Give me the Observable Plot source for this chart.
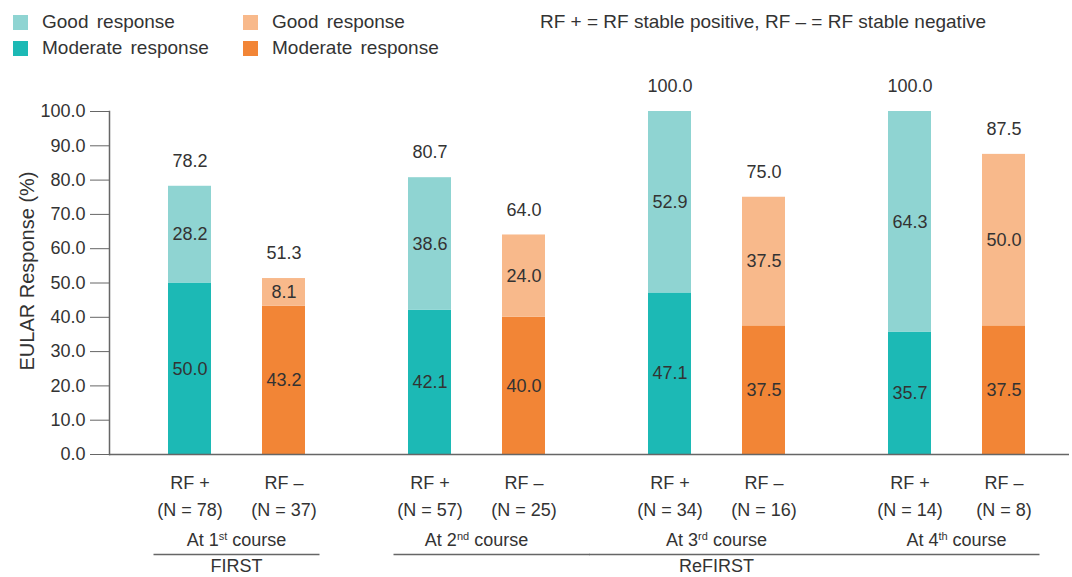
<!DOCTYPE html>
<html>
<head>
<meta charset="utf-8">
<script src="https://cdn.jsdelivr.net/npm/d3@7"></script>
<script src="https://cdn.jsdelivr.net/npm/@observablehq/plot@0.6"></script>
<style>
  html, body { margin: 0; padding: 0; background: #fff; }
  body { width: 1072px; height: 577px; overflow: hidden; font-family: "Liberation Sans", Arial, sans-serif; color: #333; }
  #legend { position: relative; height: 70px; font-size: 19px; }
  #legend .sw { position: absolute; width: 15px; height: 15px; }
  #legend .lb { position: absolute; line-height: 20px; white-space: nowrap; }
</style>
</head>
<body>
<div id="legend"></div>
<div id="chart"></div>
<script>
// ---- data ----
const courses = ["At 1st course", "At 2nd course", "At 3rd course", "At 4th course"];
const rfGroups = ["RF +", "RF –"];
const levels = ["Moderate response", "Good response"];
const nPos = [78, 57, 34, 14];
const nNeg = [37, 25, 16, 8];
const moderatePos = [50.0, 42.1, 47.1, 35.7];
const goodPos = [28.2, 38.6, 52.9, 64.3];
const totalPos = [78.2, 80.7, 100.0, 100.0];
const moderateNeg = [43.2, 40.0, 37.5, 37.5];
const goodNeg = [8.1, 24.0, 37.5, 50.0];
const totalNeg = [51.3, 64.0, 75.0, 87.5];
const phases = ["FIRST", "ReFIRST"];
const phaseSpans = [[0, 0], [1, 3]]; // course index ranges
const yTicks = [0, 10, 20, 30, 40, 50, 60, 70, 80, 90, 100];
const yLabel = "EULAR Response (%)";
const note = "RF + = RF stable positive, RF – = RF stable negative";

// ---- styling / layout ----
const colorDomain = ["RF +|Good response", "RF +|Moderate response", "RF –|Good response", "RF –|Moderate response"];
const colorRange = ["#8fd4d2", "#1cb9b5", "#f8b98b", "#f28536"];
const textColor = "#333";
const axisColor = "#666";
const W = 1072, H = 507, mL = 107, mR = 2;
const facetW = (W - mL - mR) / courses.length;
const xR0 = mL + 33.5, xR1 = mL + 221.5, padIn = 0.5426, padOut = 0.2713;
const xStep = (xR1 - xR0) / (rfGroups.length - padIn + 2 * padOut);
const bandStart = xR0 + xStep * padOut;
const bandEnd = bandStart + xStep * (rfGroups.length - padIn);
const ext = 14.5; // bracket overhang beyond bars

// ---- legend (HTML) ----
const legend = document.getElementById("legend");
const legendItems = [
  {key: colorDomain[0], label: "Good response", x: 13, y: 22},
  {key: colorDomain[1], label: "Moderate response", x: 13, y: 48},
  {key: colorDomain[2], label: "Good response", x: 243, y: 22},
  {key: colorDomain[3], label: "Moderate response", x: 243, y: 48}
];
for (const it of legendItems) {
  const sw = document.createElement("div");
  sw.className = "sw";
  sw.style.left = it.x + "px";
  sw.style.top = (it.y - 7.5) + "px";
  sw.style.background = colorRange[colorDomain.indexOf(it.key)];
  legend.appendChild(sw);
  const lb = document.createElement("div");
  lb.className = "lb";
  lb.style.left = (it.x + 29) + "px";
  lb.style.top = (it.y - 10) + "px";
  lb.style.wordSpacing = "3px";
  lb.textContent = it.label;
  legend.appendChild(lb);
}
const nt = document.createElement("div");
nt.className = "lb";
nt.style.left = "540px";
nt.style.top = "12px";
nt.textContent = note;
legend.appendChild(nt);

// ---- tables ----
const stacks = [];
const totals = [];
courses.forEach((c, i) => {
  stacks.push({course: c, rf: rfGroups[0], level: levels[0], value: moderatePos[i]});
  stacks.push({course: c, rf: rfGroups[0], level: levels[1], value: goodPos[i]});
  stacks.push({course: c, rf: rfGroups[1], level: levels[0], value: moderateNeg[i]});
  stacks.push({course: c, rf: rfGroups[1], level: levels[1], value: goodNeg[i]});
  totals.push({course: c, rf: rfGroups[0], total: totalPos[i], n: nPos[i]});
  totals.push({course: c, rf: rfGroups[1], total: totalNeg[i], n: nNeg[i]});
});

// underline segments for phase brackets
const segBoth = [], segStart = [], segEnd = [], segMid = [], phaseLabelRows = [];
phases.forEach((p, k) => {
  const [a, b] = phaseSpans[k];
  for (let i = a; i <= b; i++) {
    const row = {course: courses[i]};
    if (i === a && i === b) segBoth.push(row);
    else if (i === a) segStart.push(row);
    else if (i === b) segEnd.push(row);
    else segMid.push(row);
  }
  phaseLabelRows.push({phase: p, course: courses[Math.round((a + b) / 2)]});
});

const zero = () => 0;
const first = () => rfGroups[0];
const last = () => rfGroups[1];
const lineStyle = {stroke: axisColor, strokeWidth: 1.5, dy: 100};
const toFacetLeft = -(bandStart - mL);
const toFacetRight = -(mL + facetW - bandEnd);
const yMid = (yTicks[0] + yTicks[yTicks.length - 1]) / 2;

const plot = Plot.plot({
  width: W,
  height: H,
  marginLeft: mL,
  marginRight: mR,
  marginTop: 41,
  marginBottom: 123,
  style: {fontFamily: "'Liberation Sans', Arial, sans-serif", fontSize: "18px", color: textColor, background: "transparent", overflow: "visible"},
  fx: {domain: courses, padding: 0, axis: null},
  x: {domain: rfGroups, range: [xR0, xR1], paddingInner: padIn, paddingOuter: padOut, axis: null},
  y: {domain: [0, 100], axis: null},
  color: {domain: colorDomain, range: colorRange, legend: false},
  marks: [
    Plot.barY(stacks, Plot.stackY({fx: "course", x: "rf", y: "value", fill: d => `${d.rf}|${d.level}`})),
    Plot.text(stacks, Plot.stackY({fx: "course", x: "rf", y: "value", text: d => d.value.toFixed(1), fill: textColor, fontSize: 18})),
    Plot.text(totals, {fx: "course", x: "rf", y: "total", text: d => d.total.toFixed(1), dy: -25, fill: textColor, fontSize: 18}),
    Plot.ruleY([0], {stroke: axisColor, strokeWidth: 1.5}),
    Plot.frame({anchor: "left", facetAnchor: "left", stroke: axisColor, strokeWidth: 1.5}),
    Plot.axisY({
      ticks: yTicks, tickFormat: d3.format(".1f"), tickSize: 19, tickPadding: 5,
      stroke: axisColor, fill: textColor, fontSize: 18, label: null
    }),
    Plot.text([yLabel], {fx: () => courses[0], y: () => yMid, text: d => d, frameAnchor: "left", textAnchor: "middle", lineAnchor: "middle", rotate: -90, dx: -82, dy: -12, fill: textColor, fontSize: 20}),
    Plot.text(totals, {fx: "course", x: "rf", frameAnchor: "bottom", lineAnchor: "middle", text: d => `${d.rf}\n(N = ${d.n})`, lineHeight: 1.5, dy: 39.5, fill: textColor, fontSize: 18}),
    Plot.text(courses, {fx: d => d, text: d => d, frameAnchor: "bottom", lineAnchor: "middle", dx: 7, dy: 86, fill: textColor, fontSize: 18}),
    Plot.ruleY(segBoth, {fx: "course", y: zero, x1: first, x2: last, insetLeft: -ext, insetRight: -ext, ...lineStyle}),
    Plot.ruleY(segStart, {fx: "course", y: zero, x1: first, x2: last, insetLeft: -ext, insetRight: toFacetRight, ...lineStyle}),
    Plot.ruleY(segMid, {fx: "course", y: zero, ...lineStyle}),
    Plot.ruleY(segEnd, {fx: "course", y: zero, x1: first, x2: last, insetLeft: toFacetLeft, insetRight: -ext, ...lineStyle}),
    Plot.text(phaseLabelRows, {fx: "course", text: "phase", frameAnchor: "bottom", lineAnchor: "middle", dx: 7, dy: 112, fill: textColor, fontSize: 18})
  ]
});

// superscript ordinals in course labels
d3.select(plot).selectAll("text").each(function() {
  const t = this.textContent;
  const m = /^(At \d)(st|nd|rd|th)( course)$/.exec(t);
  if (!m || this.querySelector("tspan")) return;
  const sel = d3.select(this);
  sel.text(null);
  sel.append("tspan").text(m[1]);
  sel.append("tspan").attr("font-size", 11).attr("dy", -6).text(m[2]);
  sel.append("tspan").attr("dy", 6).text(m[3]);
});

document.getElementById("chart").appendChild(plot);
</script>
</body>
</html>
